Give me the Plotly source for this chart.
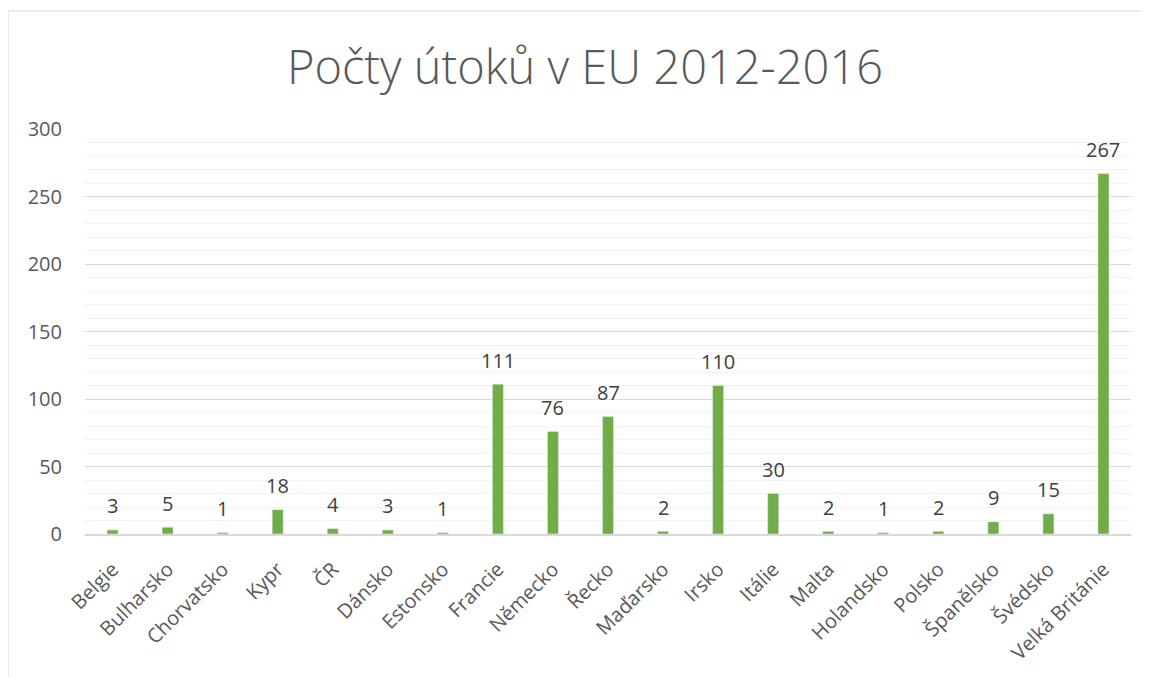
import plotly.graph_objects as go

countries = ["Belgie", "Bulharsko", "Chorvatsko", "Kypr", "ČR", "Dánsko", "Estonsko",
             "Francie", "Německo", "Řecko", "Maďarsko", "Irsko", "Itálie", "Malta",
             "Holandsko", "Polsko", "Španělsko", "Švédsko", "Velká Británie"]
attacks = [3, 5, 1, 18, 4, 3, 1, 111, 76, 87, 2, 110, 30, 2, 1, 2, 9, 15, 267]

GREEN = "#70AD47"
TEXT = "#595959"
FONT = "Open Sans"

# page body has an 8px margin, so target pixel positions are shifted by 8
OFF = 8
W, H = 1149 - OFF, 677 - OFF
L, R, T, B = 85 - OFF, 1131 - OFF, 129 - OFF, 534 - OFF
pw, ph = R - L, B - T

fig = go.Figure(
    go.Bar(
        x=countries,
        y=attacks,
        marker_color=GREEN,
        width=0.2,
        hoverinfo="x+y",
    )
)

# data labels above the bars
for c, v in zip(countries, attacks):
    fig.add_annotation(x=c, y=v, text=str(v), showarrow=False, yanchor="middle",
                       yshift=24, font=dict(size=20, color="#404040", family=FONT))

fig.update_layout(
    width=W,
    height=H,
    paper_bgcolor="white",
    plot_bgcolor="white",
    margin=dict(l=L, r=W - R, t=T, b=H - B, autoexpand=False),
    font=dict(family=FONT, color=TEXT, size=18),
    title=dict(text="Počty útoků v EU 2012-2016", x=(585 - OFF) / W, xanchor="center",
               y=1 - (68 - OFF) / H, yanchor="middle",
               font=dict(size=47, color=TEXT, family=FONT, weight=300)),
    showlegend=False,
    bargap=0.8,
    yaxis=dict(range=[0, 300], dtick=50, showgrid=True, gridcolor="#d9d9d9",
               gridwidth=1, zeroline=False, ticks="", ticklabelstandoff=22,
               tickfont=dict(size=20, color=TEXT),
               minor=dict(dtick=10, showgrid=True, gridcolor="#f2f2f2", gridwidth=1)),
    xaxis=dict(tickangle=-45, showline=True, linecolor="#d9d9d9", linewidth=1.5,
               tickfont=dict(size=20, color=TEXT), ticks="", ticklabelstandoff=14),
)

# chart frame (left and top edges visible)
fx0 = (8 - 85) / pw
fy1 = (534 - 11) / ph
fig.add_shape(type="line", xref="paper", yref="paper", x0=fx0, x1=fx0, y0=fy1,
              y1=-(H - B + 20) / ph, line=dict(color="#d9d9d9", width=1))
fig.add_shape(type="line", xref="paper", yref="paper", x0=fx0, x1=(W + 20 - L) / pw,
              y0=fy1, y1=fy1, line=dict(color="#d9d9d9", width=1))

fig.write_html("out.html")
